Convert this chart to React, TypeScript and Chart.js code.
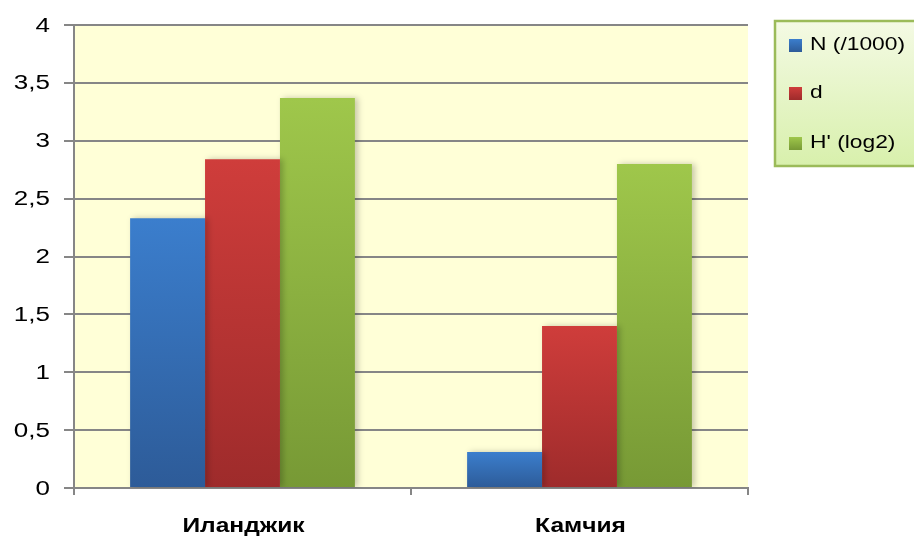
import React, { useEffect, useRef } from "react";
import { Chart, registerables } from "chart.js";

Chart.register(...registerables);

const categories = ["Иланджик", "Камчия"];
const seriesLabels = ["N (/1000)", "d", "H' (log2)"];
const nValues = [2.33, 0.31];
const dValues = [2.84, 1.4];
const hValues = [3.37, 2.8];
const yMin = 0;
const yMax = 4;
const yStep = 0.5;

const topColors = ["#3b7ecd", "#cf3d3b", "#9fc74b"];
const bottomColors = ["#2d5b98", "#9e2b2b", "#779935"];
const midColors = ["#3570b8", "#bf3535", "#8ab342"];

const FONT = "'Liberation Sans', Arial, sans-serif";
const SX = 1.3;

function stretchedText(ctx: CanvasRenderingContext2D, text: string, x: number, y: number, align: CanvasTextAlign, size: number, sx: number, weight = "normal") {
  ctx.save();
  ctx.translate(x, y);
  ctx.scale(sx, 1);
  ctx.font = `${weight} ${size}px ${FONT}`;
  ctx.fillStyle = "#000";
  ctx.textAlign = align;
  ctx.textBaseline = "middle";
  ctx.fillText(text, 0, 0);
  ctx.restore();
}

function gradientFor(i: number) {
  return (c: any) => {
    const chart = c.chart;
    const y = chart.scales && chart.scales.y;
    if (!y || c.parsed == null || c.raw == null) return midColors[i];
    const top = y.getPixelForValue(c.raw as number);
    const base = y.getPixelForValue(0);
    if (!isFinite(top) || !isFinite(base) || base - top < 1) return midColors[i];
    const g = chart.ctx.createLinearGradient(0, top, 0, base);
    g.addColorStop(0, topColors[i]);
    g.addColorStop(1, bottomColors[i]);
    return g;
  };
}

export default function App() {
  const ref = useRef<HTMLCanvasElement>(null);
  useEffect(() => {
    document.body.style.margin = "0";
    const canvas = ref.current!;
    const bgPlugin = {
      id: "bg",
      beforeDraw(chart: any) {
        const { ctx, chartArea } = chart;
        ctx.save();
        ctx.fillStyle = "#ffffd7";
        ctx.fillRect(chartArea.left, chartArea.top, chartArea.right - chartArea.left, chartArea.bottom - chartArea.top);
        ctx.restore();
      },
      beforeDatasetsDraw(chart: any) {
        const ctx = chart.ctx;
        ctx.save();
        ctx.shadowColor = "rgba(0,0,0,0.22)";
        ctx.shadowBlur = 6;
        ctx.shadowOffsetX = 3;
        ctx.shadowOffsetY = 0;
      },
      afterDatasetsDraw(chart: any) {
        chart.ctx.restore();
      },
      afterDraw(chart: any) {
        const ctx = chart.ctx as CanvasRenderingContext2D;
        const ys = chart.scales.y;
        const xs = chart.scales.x;
        ys.ticks.forEach((t: any, idx: number) => {
          const py = ys.getPixelForTick(idx);
          const label = String(t.value).replace(".", ",");
          stretchedText(ctx, label, 50, py + 1, "right", 20, SX);
        });
        categories.forEach((c, idx) => {
          const px = xs.getPixelForValue(idx);
          stretchedText(ctx, c, px + 1, 526, "center", 21, 1.17, "bold");
        });
        ctx.save();
        const lx = 775, ly = 21, lw = 160, lh = 145;
        const g = ctx.createLinearGradient(0, ly, 0, ly + lh);
        g.addColorStop(0, "#f4fae4");
        g.addColorStop(1, "#d8f0ac");
        ctx.fillStyle = g;
        ctx.fillRect(lx, ly, lw, lh);
        ctx.strokeStyle = "#9bbb59";
        ctx.lineWidth = 2.5;
        ctx.strokeRect(lx, ly, lw, lh);
        ctx.restore();
        const rowY = [45, 93, 143];
        chart.data.datasets.forEach((ds: any, i: number) => {
          const cy = rowY[i];
          ctx.save();
          const mg = ctx.createLinearGradient(0, cy - 6, 0, cy + 7);
          mg.addColorStop(0, topColors[i]);
          mg.addColorStop(1, bottomColors[i]);
          ctx.fillStyle = mg;
          ctx.fillRect(789, cy - 6, 13, 13);
          ctx.restore();
          stretchedText(ctx, ds.label, 810, cy, "left", 19, 1.2);
        });
      },
    };
    const chart = new Chart(canvas, {
      type: "bar",
      data: {
        labels: categories,
        datasets: [
          { label: seriesLabels[0], data: nValues, backgroundColor: gradientFor(0) as any },
          { label: seriesLabels[1], data: dValues, backgroundColor: gradientFor(1) as any },
          { label: seriesLabels[2], data: hValues, backgroundColor: gradientFor(2) as any },
        ],
      },
      options: {
        animation: false,
        responsive: false,
        maintainAspectRatio: false,
        devicePixelRatio: 1,
        layout: { padding: { top: 25, right: 166, left: 0, bottom: 0 } },
        datasets: { bar: { categoryPercentage: 0.667, barPercentage: 1 } },
        plugins: { legend: { display: false }, tooltip: { enabled: false } },
        scales: {
          x: {
            grid: { display: true, drawOnChartArea: false, offset: true, color: "#868686", lineWidth: 2, tickLength: 7 },
            border: { display: true, color: "#868686", width: 2 },
            ticks: { display: false },
            afterFit(scale: any) { scale.height = 53; },
          },
          y: {
            min: yMin,
            max: yMax,
            ticks: { display: false, stepSize: yStep },
            grid: { color: "#868686", lineWidth: 2, tickLength: 10 },
            border: { display: true, color: "#868686", width: 2 },
            afterFit(scale: any) { scale.width = 74; },
          },
        },
      },
      plugins: [bgPlugin],
    });
    return () => chart.destroy();
  }, []);
  return <canvas ref={ref} width={914} height={541} style={{ display: "block", width: 914, height: 541 }} />;
}
